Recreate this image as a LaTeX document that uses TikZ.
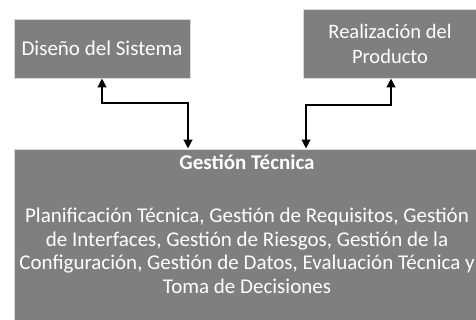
\documentclass[tikz,border=0pt]{standalone}
\usepackage{fontspec}
\setmainfont{Carlito}
\usetikzlibrary{arrows.meta}
\definecolor{boxgray}{HTML}{7F7F7F}
\definecolor{edgegray}{HTML}{D9D9D9}
\tikzset{
  box/.style={draw=edgegray, line width=0.8pt, fill=boxgray, text=white, align=center, inner sep=0pt},
  link/.style={line width=2.4pt, {Triangle[width=8.5pt,length=9pt]}-{Triangle[width=8.5pt,length=9pt]}},
}
\begin{document}
\begin{tikzpicture}[x=1pt,y=-1pt]
\useasboundingbox (0,0) rectangle (476,320);
\node[box, minimum width=176pt, minimum height=59pt, font=\fontsize{21}{24}\selectfont] (ds) at (102,48.5) {Diseño del Sistema};
\node[box, minimum width=174pt, minimum height=69pt, font=\fontsize{20.5}{25}\selectfont] (rp) at (390,43.5) {Realización del\\Producto};
\node[box, minimum width=464pt, minimum height=172pt] (gt) at (246,235) {};
\node[text=white, align=center, anchor=north, inner sep=0pt, font=\fontsize{21}{23.5}\selectfont] (gtt) at (247,155) {\textbf{Gestión Técnica}\\[29.5pt]Planificación Técnica, Gestión de Requisitos, Gestión\\de Interfaces, Gestión de Riesgos, Gestión de la\\Configuración, Gestión de Datos, Evaluación Técnica y\\Toma de Decisiones};
\coordinate (c1) at (102,103);
\coordinate (c2) at (188,103);
\coordinate (c3) at (306,105);
\coordinate (c4) at (391,105);
\draw[link] (ds.south -| c1) -- (c1) -- (c2) -- (gt.north -| c2);
\draw[link] (gt.north -| c3) -- (c3) -- (c4) -- (rp.south -| c4);
\end{tikzpicture}
\end{document}
